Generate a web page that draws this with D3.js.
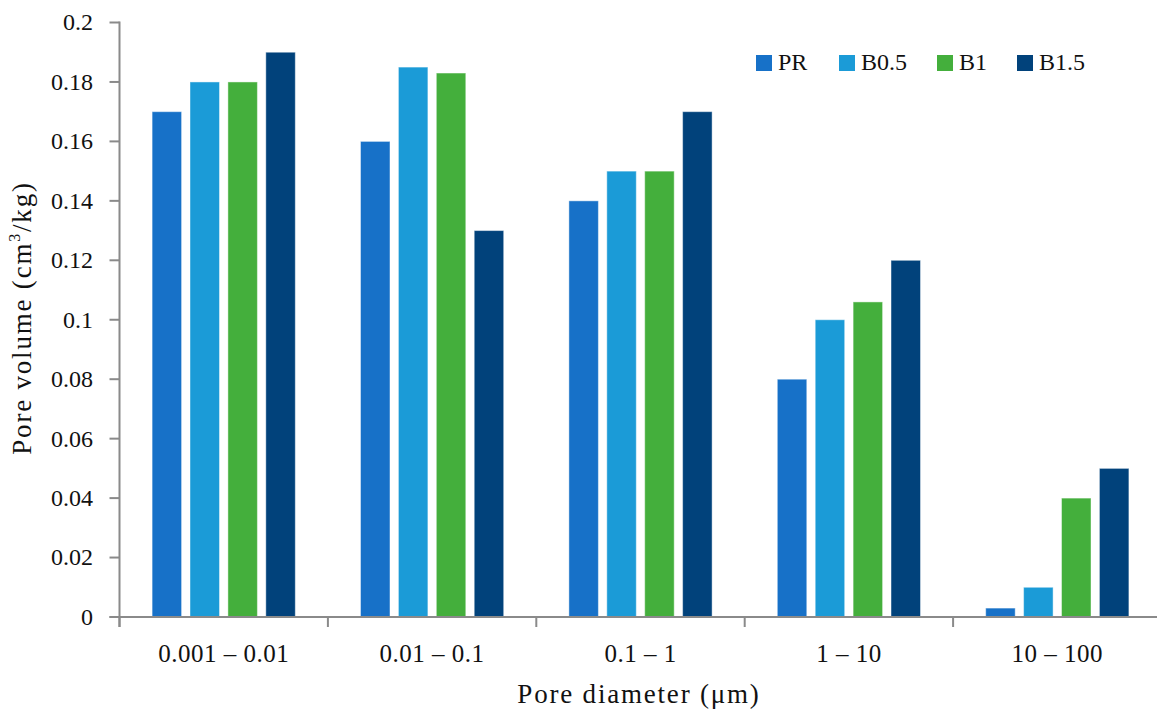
<!DOCTYPE html>
<html><head><meta charset="utf-8">
<script src="https://cdn.jsdelivr.net/npm/d3@7"></script>
<style>
html,body{margin:0;padding:0;background:#fff;}
svg text{font-family:"Palatino Linotype","Book Antiqua",Palatino,"Liberation Serif","DejaVu Serif",serif;fill:#111;}
</style></head>
<body><svg id="c" width="1157" height="717"></svg>
<script>
const categories = ["0.001 – 0.01", "0.01 – 0.1", "0.1 – 1", "1 – 10", "10 – 100"];
const seriesNames = ["PR", "B0.5", "B1", "B1.5"];
const seriesColors = ["#1771C8", "#1B9BD7", "#44AF3C", "#01427B"];
const PR   = [0.170, 0.160, 0.140, 0.080, 0.003];
const B05  = [0.180, 0.185, 0.150, 0.100, 0.010];
const B1   = [0.180, 0.183, 0.150, 0.106, 0.040];
const B15  = [0.190, 0.130, 0.170, 0.120, 0.050];
const yTicks = [0, 0.02, 0.04, 0.06, 0.08, 0.1, 0.12, 0.14, 0.16, 0.18, 0.2];
const yTickLabels = ["0", "0.02", "0.04", "0.06", "0.08", "0.1", "0.12", "0.14", "0.16", "0.18", "0.2"];

(function(){
const values = [PR, B05, B1, B15];
const svg = d3.select("#c");
const pLeft = 119.5, pRight = 1161.5, pTop = 22.5, pBottom = 617;
const axisColor = "#8a8a8a";

const x0 = d3.scaleBand().domain(categories).range([pLeft, pRight]).padding(0);
const x1 = d3.scaleBand().domain(seriesNames).range([0, x0.bandwidth()])
  .paddingInner(0.222).paddingOuter(0.86);
const y = d3.scaleLinear().domain([0, 0.2]).range([pBottom, pTop]);

const rows = [];
categories.forEach((c, i) => seriesNames.forEach((s, j) => rows.push({c, s, j, v: values[j][i]})));
svg.append("g").selectAll("rect").data(rows).join("rect")
  .attr("x", d => x0(d.c) + x1(d.s))
  .attr("y", d => y(d.v))
  .attr("width", x1.bandwidth())
  .attr("height", d => y(0) - y(d.v))
  .attr("fill", d => seriesColors[d.j])
  .attr("stroke", "rgba(255,255,255,0.45)")
  .attr("stroke-width", 1);

const ga = svg.append("g").attr("stroke", axisColor).attr("stroke-width", 2);
ga.append("line").attr("x1", pLeft).attr("x2", pLeft).attr("y1", y(0.2) - 1).attr("y2", pBottom + 10);
ga.selectAll(".yt").data(yTicks).join("line")
  .attr("x1", pLeft - 10).attr("x2", pLeft).attr("y1", d => y(d)).attr("y2", d => y(d));
ga.append("line").attr("x1", pLeft - 10).attr("x2", 1157).attr("y1", pBottom).attr("y2", pBottom);
ga.selectAll(".xt").data(categories).join("line")
  .attr("x1", d => x0(d)).attr("x2", d => x0(d)).attr("y1", pBottom).attr("y2", pBottom + 10);

svg.append("g").selectAll("text").data(yTicks).join("text")
  .attr("x", 93).attr("y", d => y(d)).attr("dy", "0.33em")
  .attr("text-anchor", "end").attr("font-size", 24)
  .text((d, i) => yTickLabels[i]);

svg.append("g").selectAll("text").data(categories).join("text")
  .attr("x", d => x0(d) + x0.bandwidth() / 2).attr("y", 662)
  .attr("text-anchor", "middle").attr("font-size", 25).attr("letter-spacing", 0.5)
  .text(d => d);

svg.append("text").attr("x", 639).attr("y", 703).attr("text-anchor", "middle")
  .attr("font-size", 27).attr("letter-spacing", 1.8).text("Pore diameter (μm)");
const yt = svg.append("text").attr("transform", "translate(31,318) rotate(-90)")
  .attr("text-anchor", "middle").attr("font-size", 27).attr("letter-spacing", 1.8);
yt.append("tspan").text("Pore volume (cm");
yt.append("tspan").attr("font-size", 16).attr("dy", -11).text("3");
yt.append("tspan").attr("dy", 11).text("/kg)");

const legX = [756, 839, 937, 1017];
const lg = svg.append("g").selectAll("g").data(seriesNames).join("g")
  .attr("transform", (d, i) => `translate(${legX[i]},55)`);
lg.append("rect").attr("width", 16).attr("height", 16).attr("fill", (d, i) => seriesColors[i]);
lg.append("text").attr("x", 22).attr("y", 15).attr("font-size", 24).text(d => d);
})();
</script></body></html>
